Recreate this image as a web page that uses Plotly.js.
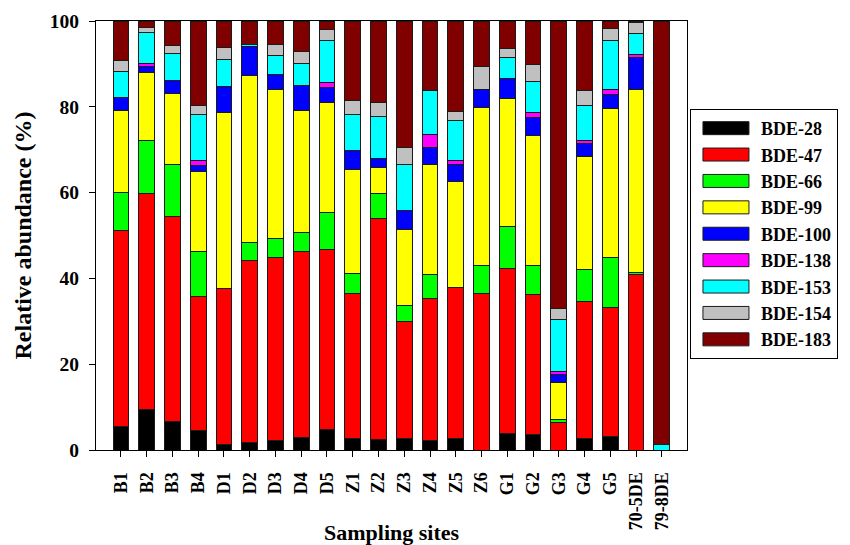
<!DOCTYPE html>
<html>
<head>
<meta charset="utf-8">
<script src="https://cdn.plot.ly/plotly-3.0.1.min.js"></script>
<style>html,body{margin:0;padding:0;background:#fff;}#chart{width:850px;height:545px;}</style>
</head>
<body>
<div id="chart"></div>
<script>
const sites = ["B1","B2","B3","B4","D1","D2","D3","D4","D5","Z1","Z2","Z3","Z4","Z5","Z6","G1","G2","G3","G4","G5","70-5DE","79-8DE"];
const congeners = ["BDE-28","BDE-47","BDE-66","BDE-99","BDE-100","BDE-138","BDE-153","BDE-154","BDE-183"];
const colors = ["#000000","#FF0000","#00FF00","#FFFF00","#0000FF","#FF00FF","#00FFFF","#C0C0C0","#800000"];

const bde28  = [5.5, 9.4, 6.6, 4.6, 1.2, 1.7, 2.2, 3.0, 4.8, 2.7, 2.4, 2.7, 2.1, 2.7, 0,    3.8, 3.6, 0,    2.7, 3.2, 0,    0];
const bde47  = [45.7,50.5,47.8,31.1,36.4,42.5,42.7,43.3,42.0,33.7,51.5,27.3,33.3,35.1,36.4, 38.4,32.6,6.3, 32.0,30.1,41.0, 0];
const bde66  = [8.9, 12.3,12.1,10.5,0,   4.1, 4.5, 4.4, 8.6, 4.8, 6.0, 3.7, 5.5, 0,   6.6,  10.0,6.9, 0.7, 7.3, 11.6,0.3,  0];
const bde99  = [19.1,15.9,16.5,18.7,41.1,38.9,34.6,28.5,25.6,24.2,6.0, 17.8,25.7,24.8,36.8, 29.7,30.2,8.8, 26.5,34.6,42.8, 0];
const bde100 = [3.0, 1.4, 3.1, 1.5, 6.1, 6.8, 3.5, 5.8, 3.4, 4.5, 2.1, 4.4, 4.0, 4.0, 4.3,  4.6, 4.3, 1.8, 2.9, 3.4, 7.5,  0];
const bde138 = [0,   0.6, 0,   1.0, 0,   0,   0,   0,   1.2, 0,   0,   0,   2.9, 0.9, 0,    0,   1.1, 0.7, 0.8, 1.2, 0.6,  0];
const bde153 = [6.1, 7.3, 6.3, 10.8,6.3, 0.6, 4.4, 5.1, 9.8, 8.4, 9.7, 10.6,10.4,9.3, 0,    5.0, 7.3, 12.1,8.2, 11.3,5.0,  1.2];
const bde154 = [2.5, 1.1, 1.9, 2.1, 2.8, 0,   2.7, 2.7, 2.7, 3.1, 3.2, 4.1, 0,   2.0, 5.2,  2.0, 3.9, 2.7, 3.3, 2.9, 2.4,  0];
const bde183 = [9.2, 1.5, 5.7, 19.7,6.1, 5.4, 5.4, 7.2, 1.9, 18.6,19.1,29.4,16.1,21.2,10.7, 6.5, 10.1,66.9,16.3,1.7, 0.4,  98.8];

const series = [bde28,bde47,bde66,bde99,bde100,bde138,bde153,bde154,bde183];
const FONT = "'Liberation Serif','Times New Roman',Times,serif";

const traces = congeners.map((name,i)=>({
  type:'bar', name:name, x:sites, y:series[i],
  marker:{color:colors[i], line:{color:'#1a1a1a', width:1}}
}));

const layout = {
  width:850, height:545,
  margin:{l:96, r:159, t:21, b:95},
  paper_bgcolor:'#fff', plot_bgcolor:'#fff',
  barmode:'stack', bargap:0.39,
  font:{family:FONT, color:'#000', weight:'bold'},
  showlegend:true,
  legend:{
    x:1.005, xanchor:'left', y:0.795, yanchor:'top',
    traceorder:'normal', bordercolor:'#000', borderwidth:1,
    font:{family:FONT, size:18, weight:'bold', color:'#000'},
    itemwidth:60, bgcolor:'#fff'
  },
  xaxis:{
    type:'category', range:[-0.97, 21.98],
    showline:true, mirror:true, linecolor:'#000', linewidth:1,
    ticks:'outside', ticklen:6, tickcolor:'#000', tickwidth:1,
    tickangle:-90, ticklabelstandoff:8,
    tickfont:{family:FONT, size:18, weight:'bold', color:'#000'},
    showgrid:false, zeroline:false
  },
  yaxis:{
    range:[0,100], tickvals:[0,20,40,60,80,100],
    showline:true, mirror:true, linecolor:'#000', linewidth:1,
    ticks:'outside', ticklen:6, tickcolor:'#000', tickwidth:1,
    ticklabelstandoff:6,
    tickfont:{family:FONT, size:19.5, weight:'bold', color:'#000'},
    showgrid:false, zeroline:false,
    title:{text:'Relative abundance (%)', standoff:11, font:{family:FONT, size:24, weight:'bold', color:'#000'}}
  },
  annotations:[{
    text:'Sampling sites', xref:'paper', yref:'paper', x:0.5, y:-0.158,
    xanchor:'center', yanchor:'top', showarrow:false,
    font:{family:FONT, size:22, weight:'bold', color:'#000'}
  }]
};

Plotly.newPlot('chart', traces, layout, {displayModeBar:false, staticPlot:true}).then(()=>{
  document.querySelectorAll('#chart .legendpoints path').forEach(p=>{
    p.setAttribute('d','M23,6.5H-23V-6.5H23Z');
  });
});
</script>
</body>
</html>
